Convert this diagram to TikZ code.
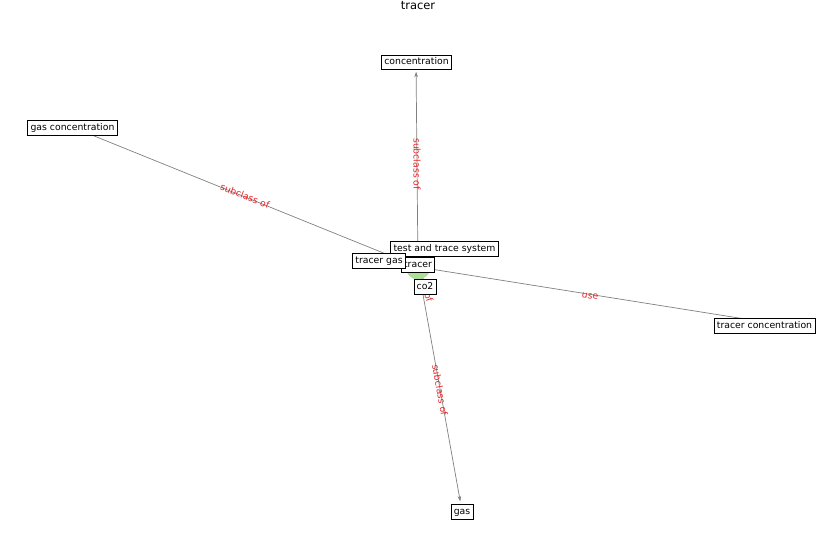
\documentclass[tikz,border=0pt]{standalone}
\usepackage{fontspec}
\setmainfont{DejaVu Sans}
\usetikzlibrary{arrows.meta}
\definecolor{edgegray}{RGB}{128,128,128}
\definecolor{labred}{RGB}{225,40,40}
\definecolor{nodegreen}{RGB}{170,225,150}
\begin{document}
\begin{tikzpicture}[x=1pt,y=-1pt,
  lbl/.style={draw=black,line width=0.6pt,fill=white,inner sep=2.8pt,font=\fontsize{9.3}{10}\selectfont,text height=7pt,text depth=2pt},
  vert/.style={circle,minimum size=19pt,inner sep=0pt},
  edge/.style={draw=edgegray,line width=0.7pt},
  arr/.style={edge,-{Stealth[length=5.5pt,width=3.6pt]}},
  elab/.style={text=labred,font=\fontsize{9.3}{10}\selectfont,inner sep=0pt}]
\useasboundingbox (0,0) rectangle (837,559);
\node[font=\fontsize{11.5}{12}\selectfont] (title) at (418,6) {tracer};
% vertices
\node[vert] (vTracer) at (418,267) {};
\node[vert] (vConc) at (416,62) {};
\node[vert] (vGasConc) at (72,127) {};
\node[vert] (vTrConc) at (764,322) {};
\node[vert] (vGas) at (462,511) {};
\node[vert] (vCo2) at (425,287) {};
% edges
\draw[arr] (vTracer.center) -- (vConc);
\draw[edge] (vGasConc.center) -- (vTracer.center);
\draw[edge] (vTracer.center) -- (vTrConc.center);
\draw[arr] (vTracer.center) -- (vGas);
\draw[edge] (vTracer.center) -- (vCo2.center);
% edge labels
\node[elab,rotate=-90] (l1) at (417,164) {subclass of};
\node[elab,rotate=-21.3] (l2) at (245,196) {subclass of};
\node[elab,rotate=-10.2] (l3) at (590,296) {use};
\node[elab,rotate=-79.8] (l4) at (440,390) {subclass of};
\node[elab,rotate=-70] (l5) at (421.5,277) {subclass of};
% green vertex
\fill[nodegreen] (vTracer) circle (12.5pt);
% label boxes
\node[lbl] (concentration) at (416.5,62.5) {concentration};
\node[lbl] (gasconcentration) at (72.5,127.5) {gas concentration};
\node[lbl] (tracerconcentration) at (764.5,325.5) {tracer concentration};
\node[lbl] (gas) at (462,511.5) {gas};
\node[lbl] (tracer) at (418,264.5) {tracer};
\node[lbl] (testtrace) at (444.5,248.5) {test and trace system};
\node[lbl] (tracergas) at (379,260.5) {tracer gas};
\node[lbl] (co2) at (425,286.5) {co2};
\end{tikzpicture}
\end{document}
